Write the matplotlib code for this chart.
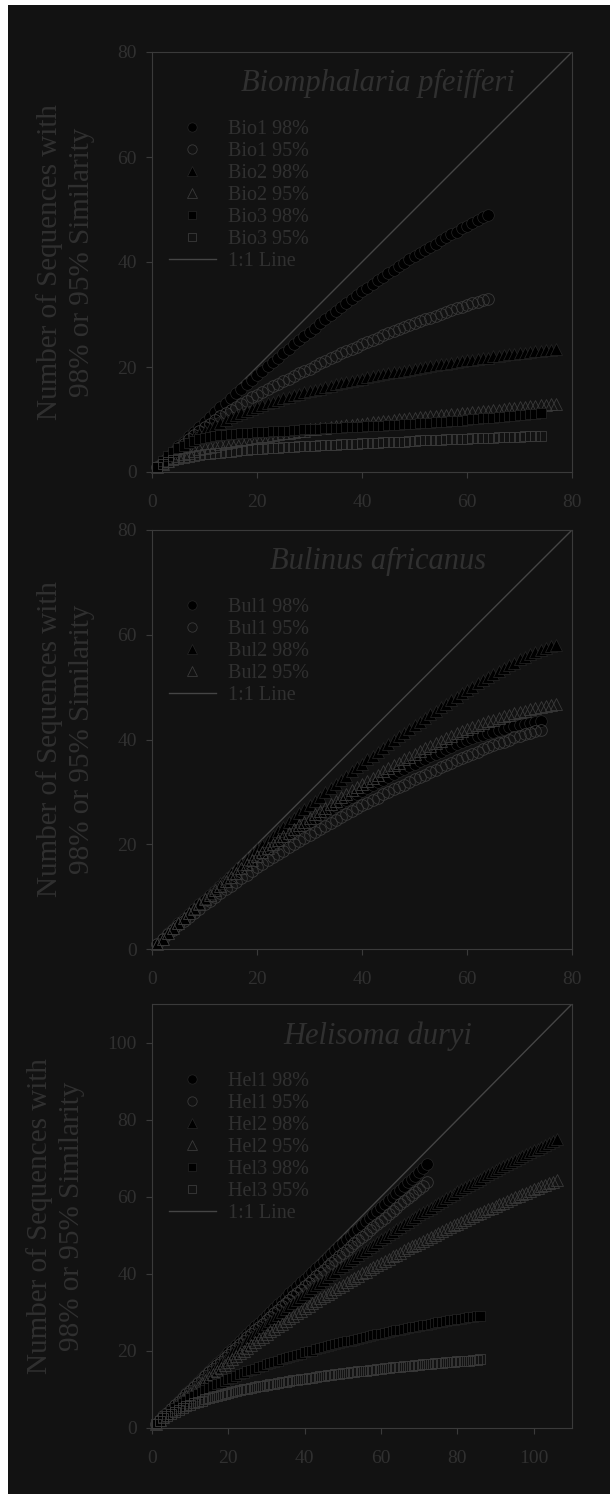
import numpy as np
import matplotlib
matplotlib.use("Agg")
import matplotlib.pyplot as plt
from matplotlib.lines import Line2D
from matplotlib.patches import Rectangle

plt.rcParams["font.family"] = ["Liberation Serif", "DejaVu Serif"]

# ---- panel 1: Biomphalaria pfeifferi (y = number of OTUs at sample size 1..N)
bio1_98 = [1.0, 2.0, 2.9, 3.9, 4.9, 5.8, 6.8, 7.7, 8.6, 9.6,
           10.5, 11.4, 12.3, 13.2, 14.1, 15.0, 15.9, 16.7, 17.6, 18.4,
           19.3, 20.1, 21.0, 21.8, 22.6, 23.5, 24.3, 25.1, 25.9, 26.7,
           27.5, 28.3, 29.1, 29.9, 30.7, 31.4, 32.2, 33.0, 33.7, 34.5,
           35.1, 35.8, 36.5, 37.2, 37.9, 38.5, 39.2, 39.8, 40.5, 41.1,
           41.7, 42.3, 42.9, 43.5, 44.1, 44.7, 45.3, 45.8, 46.4, 46.9,
           47.5, 48.0, 48.5, 49.0]
bio1_95 = [1.0, 1.9, 2.8, 3.7, 4.6, 5.4, 6.2, 7.0, 7.8, 8.5,
           9.2, 9.9, 10.6, 11.2, 11.8, 12.4, 13.0, 13.6, 14.2, 14.7,
           15.3, 15.8, 16.3, 16.8, 17.3, 17.8, 18.3, 18.8, 19.3, 19.7,
           20.2, 20.7, 21.2, 21.7, 22.1, 22.6, 23.1, 23.5, 23.9, 24.4,
           24.8, 25.2, 25.6, 26.0, 26.4, 26.8, 27.2, 27.6, 28.0, 28.3,
           28.7, 29.1, 29.4, 29.8, 30.1, 30.5, 30.8, 31.2, 31.5, 31.8,
           32.1, 32.4, 32.7, 33.0]
bio2_98 = [1.0, 1.9, 2.8, 3.6, 4.4, 5.2, 5.9, 6.6, 7.2, 7.8,
           8.4, 8.9, 9.4, 9.9, 10.4, 10.8, 11.2, 11.6, 12.0, 12.4,
           12.7, 13.1, 13.4, 13.7, 14.0, 14.3, 14.6, 14.9, 15.2, 15.4,
           15.7, 15.9, 16.2, 16.4, 16.7, 16.9, 17.1, 17.3, 17.6, 17.8,
           18.0, 18.2, 18.4, 18.6, 18.8, 19.0, 19.1, 19.3, 19.5, 19.7,
           19.8, 20.0, 20.2, 20.3, 20.5, 20.6, 20.8, 21.0, 21.1, 21.3,
           21.4, 21.5, 21.7, 21.8, 22.0, 22.1, 22.2, 22.4, 22.5, 22.6,
           22.7, 22.9, 23.0, 23.1, 23.2, 23.3, 23.5]
bio2_95 = [1.0, 1.6, 2.1, 2.6, 3.0, 3.4, 3.7, 4.0, 4.3, 4.6,
           4.8, 5.0, 5.3, 5.5, 5.7, 5.9, 6.1, 6.3, 6.4, 6.6,
           6.8, 6.9, 7.1, 7.2, 7.4, 7.5, 7.7, 7.8, 7.9, 8.1,
           8.2, 8.3, 8.4, 8.6, 8.7, 8.8, 8.9, 9.0, 9.1, 9.2,
           9.4, 9.5, 9.6, 9.7, 9.8, 9.9, 10.0, 10.1, 10.2, 10.3,
           10.4, 10.5, 10.6, 10.7, 10.8, 10.9, 11.0, 11.1, 11.2, 11.3,
           11.4, 11.5, 11.6, 11.7, 11.8, 11.9, 12.0, 12.1, 12.2, 12.3,
           12.4, 12.5, 12.6, 12.7, 12.8, 12.9, 13.0]
bio3_98 = [1.0, 2.1, 3.0, 3.8, 4.5, 5.0, 5.5, 5.9, 6.2, 6.5,
           6.7, 6.9, 7.0, 7.1, 7.2, 7.3, 7.4, 7.5, 7.5, 7.6,
           7.7, 7.7, 7.8, 7.8, 7.9, 7.9, 8.0, 8.0, 8.1, 8.1,
           8.2, 8.2, 8.3, 8.3, 8.4, 8.4, 8.5, 8.5, 8.6, 8.6,
           8.7, 8.7, 8.8, 8.8, 8.9, 8.9, 9.0, 9.1, 9.1, 9.2,
           9.3, 9.3, 9.4, 9.5, 9.5, 9.6, 9.7, 9.7, 9.8, 9.9,
           10.0, 10.1, 10.2, 10.2, 10.3, 10.4, 10.5, 10.6, 10.7, 10.8,
           10.9, 11.0, 11.1, 11.2]
bio3_95 = [1.0, 1.5, 1.9, 2.2, 2.5, 2.7, 2.9, 3.1, 3.2, 3.4,
           3.5, 3.6, 3.7, 3.8, 3.9, 4.0, 4.1, 4.2, 4.3, 4.4,
           4.4, 4.5, 4.6, 4.6, 4.7, 4.8, 4.8, 4.9, 4.9, 5.0,
           5.0, 5.1, 5.1, 5.2, 5.2, 5.3, 5.3, 5.4, 5.4, 5.5,
           5.5, 5.6, 5.6, 5.7, 5.7, 5.7, 5.8, 5.8, 5.9, 5.9,
           6.0, 6.0, 6.0, 6.1, 6.1, 6.2, 6.2, 6.2, 6.3, 6.3,
           6.4, 6.4, 6.4, 6.5, 6.5, 6.6, 6.6, 6.6, 6.7, 6.7,
           6.8, 6.8, 6.9, 6.9]

# ---- panel 2: Bulinus africanus
bul1_98 = [1.0, 2.0, 3.0, 3.9, 4.9, 5.8, 6.7, 7.6, 8.5, 9.4,
           10.3, 11.1, 12.0, 12.8, 13.6, 14.4, 15.2, 16.0, 16.7, 17.5,
           18.2, 18.9, 19.6, 20.3, 21.0, 21.7, 22.3, 23.0, 23.6, 24.3,
           24.9, 25.5, 26.1, 26.7, 27.3, 27.9, 28.5, 29.1, 29.6, 30.2,
           30.7, 31.3, 31.8, 32.3, 32.9, 33.4, 33.9, 34.4, 34.9, 35.4,
           35.9, 36.3, 36.8, 37.3, 37.7, 38.2, 38.6, 39.1, 39.5, 39.9,
           40.3, 40.6, 40.9, 41.2, 41.5, 41.8, 42.1, 42.4, 42.6, 42.8,
           43.0, 43.2, 43.4, 43.6]
bul1_95 = [1.0, 1.9, 2.8, 3.6, 4.5, 5.3, 6.1, 6.9, 7.7, 8.5,
           9.2, 10.0, 10.7, 11.4, 12.1, 12.8, 13.5, 14.2, 14.9, 15.6,
           16.2, 16.9, 17.5, 18.2, 18.8, 19.4, 20.0, 20.6, 21.2, 21.8,
           22.4, 23.0, 23.5, 24.1, 24.7, 25.2, 25.8, 26.3, 26.9, 27.4,
           27.9, 28.4, 28.9, 29.5, 30.0, 30.5, 30.9, 31.4, 31.9, 32.4,
           32.9, 33.3, 33.8, 34.2, 34.7, 35.1, 35.6, 36.0, 36.4, 36.9,
           37.3, 37.7, 38.1, 38.5, 38.9, 39.3, 39.6, 40.0, 40.4, 40.7,
           41.0, 41.3, 41.6, 41.9]
bul2_98 = [1.0, 2.0, 3.0, 4.0, 5.0, 5.9, 6.9, 7.9, 8.8, 9.8,
           10.7, 11.7, 12.6, 13.5, 14.5, 15.4, 16.3, 17.2, 18.1, 19.0,
           19.9, 20.7, 21.6, 22.5, 23.3, 24.2, 25.0, 25.9, 26.7, 27.5,
           28.3, 29.1, 29.9, 30.7, 31.5, 32.3, 33.1, 33.9, 34.7, 35.4,
           36.2, 36.9, 37.7, 38.4, 39.2, 39.9, 40.6, 41.3, 42.0, 42.7,
           43.4, 44.1, 44.8, 45.5, 46.2, 46.8, 47.5, 48.2, 48.8, 49.5,
           50.1, 50.7, 51.3, 51.9, 52.5, 53.1, 53.6, 54.2, 54.7, 55.3,
           55.8, 56.3, 56.7, 57.1, 57.5, 57.8, 58.1]
bul2_95 = [1.0, 2.0, 3.0, 4.0, 4.9, 5.9, 6.8, 7.7, 8.6, 9.5,
           10.4, 11.3, 12.1, 13.0, 13.8, 14.6, 15.4, 16.2, 17.0, 17.8,
           18.5, 19.3, 20.0, 20.8, 21.5, 22.2, 22.9, 23.6, 24.3, 25.0,
           25.7, 26.4, 27.0, 27.7, 28.3, 29.0, 29.6, 30.3, 30.9, 31.5,
           32.1, 32.7, 33.3, 33.9, 34.5, 35.1, 35.6, 36.2, 36.7, 37.3,
           37.8, 38.3, 38.8, 39.3, 39.8, 40.3, 40.7, 41.2, 41.6, 42.0,
           42.4, 42.8, 43.1, 43.5, 43.8, 44.1, 44.4, 44.7, 45.0, 45.3,
           45.5, 45.8, 46.0, 46.2, 46.4, 46.6, 46.8]

# ---- panel 3: Helisoma duryi
hel1_98 = [1.0, 2.0, 3.0, 4.0, 5.0, 6.0, 7.0, 8.0, 9.0, 9.9,
           10.9, 11.9, 12.9, 13.8, 14.8, 15.8, 16.8, 17.7, 18.7, 19.7,
           20.6, 21.6, 22.6, 23.5, 24.5, 25.4, 26.4, 27.3, 28.3, 29.2,
           30.2, 31.1, 32.1, 33.0, 34.0, 34.9, 35.9, 36.8, 37.8, 38.7,
           39.6, 40.6, 41.5, 42.4, 43.4, 44.3, 45.2, 46.2, 47.1, 48.0,
           49.0, 49.9, 50.8, 51.7, 52.7, 53.6, 54.5, 55.4, 56.3, 57.3,
           58.2, 59.1, 60.0, 60.9, 61.8, 62.7, 63.7, 64.6, 65.5, 66.4,
           67.5, 68.5]
hel1_95 = [1.0, 2.0, 3.0, 3.9, 4.9, 5.9, 6.8, 7.8, 8.7, 9.7,
           10.6, 11.6, 12.5, 13.5, 14.4, 15.3, 16.3, 17.2, 18.1, 19.0,
           19.9, 20.8, 21.8, 22.7, 23.6, 24.5, 25.4, 26.3, 27.1, 28.0,
           28.9, 29.8, 30.7, 31.6, 32.4, 33.3, 34.2, 35.1, 35.9, 36.8,
           37.7, 38.5, 39.4, 40.2, 41.1, 42.0, 42.8, 43.7, 44.5, 45.4,
           46.2, 47.1, 47.9, 48.8, 49.6, 50.4, 51.3, 52.1, 53.0, 53.8,
           54.6, 55.5, 56.3, 57.1, 58.0, 58.8, 59.6, 60.5, 61.3, 62.1,
           62.9, 63.8]
hel2_98 = [1.0, 2.0, 3.0, 3.9, 4.9, 5.8, 6.8, 7.7, 8.6, 9.6,
           10.5, 11.4, 12.3, 13.2, 14.1, 15.0, 15.9, 16.8, 17.7, 18.5,
           19.4, 20.2, 21.1, 21.9, 22.8, 23.6, 24.4, 25.2, 26.1, 26.9,
           27.7, 28.5, 29.3, 30.1, 30.9, 31.7, 32.4, 33.2, 34.0, 34.7,
           35.5, 36.2, 37.0, 37.7, 38.5, 39.2, 39.9, 40.6, 41.4, 42.1,
           42.8, 43.5, 44.2, 44.9, 45.6, 46.3, 46.9, 47.6, 48.3, 49.0,
           49.6, 50.3, 50.9, 51.6, 52.2, 52.9, 53.5, 54.1, 54.8, 55.4,
           56.0, 56.6, 57.2, 57.8, 58.4, 59.0, 59.6, 60.2, 60.8, 61.4,
           61.9, 62.5, 63.1, 63.6, 64.2, 64.7, 65.3, 65.8, 66.4, 66.9,
           67.4, 68.0, 68.5, 69.0, 69.5, 70.0, 70.5, 71.0, 71.5, 72.0,
           72.5, 73.0, 73.5, 74.0, 74.4, 74.9]
hel2_95 = [1.0, 2.0, 2.9, 3.8, 4.7, 5.6, 6.5, 7.4, 8.2, 9.1,
           9.9, 10.7, 11.6, 12.4, 13.2, 14.0, 14.8, 15.6, 16.3, 17.1,
           17.9, 18.6, 19.4, 20.1, 20.8, 21.6, 22.3, 23.0, 23.7, 24.4,
           25.1, 25.8, 26.5, 27.1, 27.8, 28.5, 29.1, 29.8, 30.4, 31.1,
           31.7, 32.3, 33.0, 33.6, 34.2, 34.8, 35.4, 36.0, 36.6, 37.2,
           37.8, 38.4, 38.9, 39.5, 40.1, 40.6, 41.2, 41.8, 42.3, 42.9,
           43.4, 43.9, 44.5, 45.0, 45.5, 46.1, 46.6, 47.1, 47.6, 48.1,
           48.6, 49.1, 49.6, 50.1, 50.6, 51.1, 51.6, 52.1, 52.6, 53.0,
           53.5, 54.0, 54.4, 54.9, 55.4, 55.8, 56.3, 56.7, 57.2, 57.6,
           58.0, 58.5, 58.9, 59.3, 59.8, 60.2, 60.6, 61.0, 61.4, 61.9,
           62.3, 62.7, 63.1, 63.5, 63.9, 64.3]
hel3_98 = [1.0, 1.9, 2.8, 3.6, 4.4, 5.1, 5.8, 6.5, 7.1, 7.7,
           8.3, 8.9, 9.4, 9.9, 10.4, 10.9, 11.4, 11.8, 12.3, 12.7,
           13.1, 13.5, 13.9, 14.3, 14.7, 15.1, 15.4, 15.8, 16.1, 16.5,
           16.8, 17.1, 17.5, 17.8, 18.1, 18.4, 18.7, 19.0, 19.3, 19.6,
           19.9, 20.1, 20.4, 20.7, 20.9, 21.2, 21.5, 21.7, 22.0, 22.2,
           22.5, 22.7, 22.9, 23.2, 23.4, 23.6, 23.9, 24.1, 24.3, 24.5,
           24.7, 24.9, 25.1, 25.3, 25.5, 25.7, 25.9, 26.1, 26.3, 26.5,
           26.7, 26.8, 27.0, 27.2, 27.4, 27.5, 27.7, 27.9, 28.0, 28.2,
           28.4, 28.5, 28.7, 28.8, 29.0, 29.1]
hel3_95 = [1.0, 1.8, 2.5, 3.1, 3.7, 4.2, 4.7, 5.2, 5.6, 6.0,
           6.4, 6.7, 7.1, 7.4, 7.7, 8.0, 8.3, 8.6, 8.8, 9.1,
           9.3, 9.5, 9.8, 10.0, 10.2, 10.4, 10.6, 10.8, 11.0, 11.2,
           11.4, 11.5, 11.7, 11.9, 12.0, 12.2, 12.4, 12.5, 12.7, 12.8,
           13.0, 13.1, 13.3, 13.4, 13.5, 13.7, 13.8, 13.9, 14.1, 14.2,
           14.3, 14.4, 14.6, 14.7, 14.8, 14.9, 15.0, 15.1, 15.2, 15.3,
           15.5, 15.6, 15.7, 15.8, 15.9, 16.0, 16.1, 16.2, 16.3, 16.4,
           16.5, 16.6, 16.7, 16.8, 16.8, 16.9, 17.0, 17.1, 17.2, 17.3,
           17.4, 17.5, 17.5, 17.6, 17.7, 17.8]

panels = [
    {"title": "Biomphalaria pfeifferi", "lim": 80, "ticks": [0, 20, 40, 60, 80],
     "series": [("Bio1 98%", bio1_98), ("Bio1 95%", bio1_95), ("Bio2 98%", bio2_98),
                ("Bio2 95%", bio2_95), ("Bio3 98%", bio3_98), ("Bio3 95%", bio3_95)]},
    {"title": "Bulinus africanus", "lim": 80, "ticks": [0, 20, 40, 60, 80],
     "series": [("Bul1 98%", bul1_98), ("Bul1 95%", bul1_95),
                ("Bul2 98%", bul2_98), ("Bul2 95%", bul2_95)]},
    {"title": "Helisoma duryi", "lim": 110, "ticks": [0, 20, 40, 60, 80, 100],
     "series": [("Hel1 98%", hel1_98), ("Hel1 95%", hel1_95), ("Hel2 98%", hel2_98),
                ("Hel2 95%", hel2_95), ("Hel3 98%", hel3_98), ("Hel3 95%", hel3_95)]},
]

BG = "#121212"
TXT = "#303030"
EDGE = "#3a3a3a"
styles = [("o", True), ("o", False), ("^", True), ("^", False), ("s", True), ("s", False)]

W, H = 610, 1494
fig = plt.figure(figsize=(W / 100, H / 100), dpi=100, facecolor="white")
fig.patches.append(Rectangle((8 / W, 0), 1 - 8 / W, 1 - 5 / H, transform=fig.transFigure,
                             facecolor=BG, edgecolor="none", zorder=-10))

boxes = [(52, 472), (530, 949), (1004, 1428)]  # top/bottom pixel rows of each plot area
for p, (top, bot) in zip(panels, boxes):
    ax = fig.add_axes([152 / W, 1 - bot / H, 420 / W, (bot - top) / H])
    ax.set_facecolor("none")
    lim = p["lim"]
    ax.plot([0, lim], [0, lim], color="#454545", lw=1.0, zorder=1)
    handles = []
    for (lab, ys), (mk, filled) in zip(p["series"], styles):
        xs = np.arange(1, len(ys) + 1)
        ms = {"o": 8.4, "^": 9.0, "s": 7.6}[mk]
        if filled:
            kw = dict(mfc="black", mec="#262626", mew=0.5)
        else:
            kw = dict(mfc="none", mec=EDGE, mew=0.6)
        ax.plot(xs, ys, ls="none", marker=mk, ms=ms, zorder=2, clip_on=False, **kw)
        handles.append(Line2D([], [], ls="none", marker=mk, ms=ms * 0.8, **kw))
    handles.append(Line2D([], [], color="#454545", lw=1.0))
    labels = [s[0] for s in p["series"]] + ["1:1 Line"]
    leg_top = 1 - 68 / (bot - top)
    ax.legend(handles, labels, loc="upper left", bbox_to_anchor=(0.040, leg_top), frameon=False,
              fontsize=14.5, labelcolor=TXT, handlelength=2.35, handletextpad=0.6,
              labelspacing=0.14, borderpad=0, borderaxespad=0)
    ax.text(0.538, 0.925, p["title"], transform=ax.transAxes, ha="center", va="center",
            fontsize=22, style="italic", color=TXT)
    ax.set_xlim(0, lim)
    ax.set_ylim(0, lim)
    ax.set_xticks(p["ticks"])
    ax.set_yticks(p["ticks"])
    ax.tick_params(direction="out", length=4, width=0.8, colors=EDGE, labelcolor=TXT,
                   labelsize=14)
    ax.tick_params(axis="x", pad=12)
    ax.tick_params(axis="y", pad=7)
    for s in ax.spines.values():
        s.set_color(EDGE)
        s.set_linewidth(0.8)
    ax.set_ylabel("Number of Sequences with\n98% or 95% Similarity", fontsize=21,
                  color=TXT, labelpad=16, linespacing=1.3)

fig.savefig("out.png", dpi=100, facecolor=fig.get_facecolor())
